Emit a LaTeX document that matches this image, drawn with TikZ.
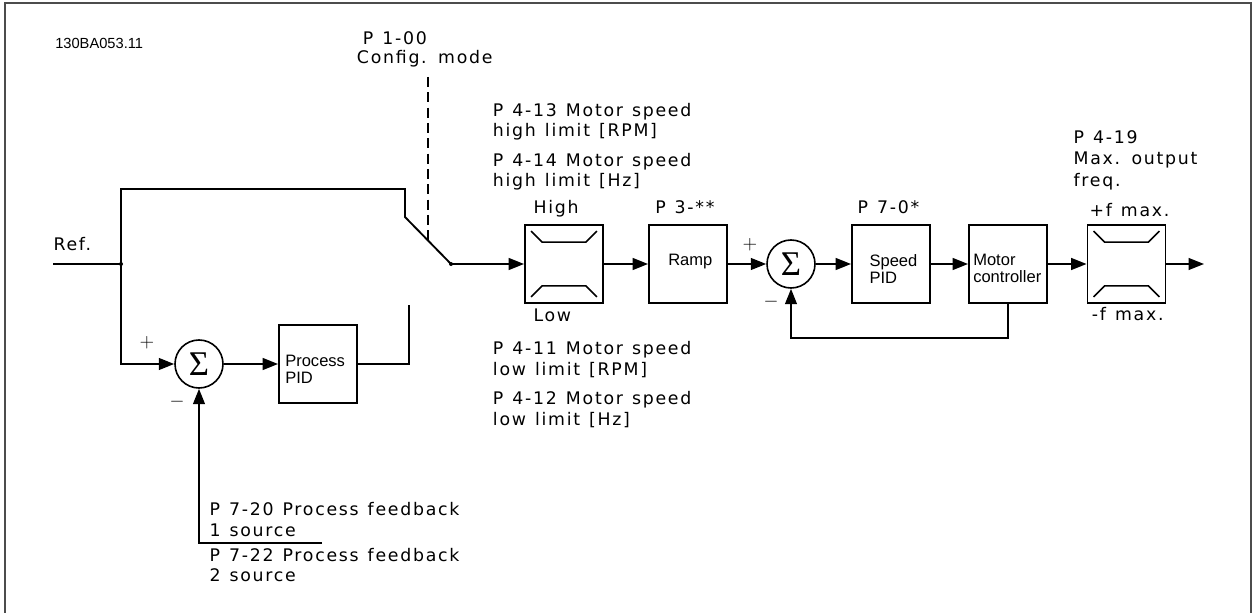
\documentclass[tikz,border=0pt]{standalone}
\usepackage{fontspec}
\usetikzlibrary{arrows.meta}
\newfontfamily\vfont{DejaVu Sans}[LetterSpace=10]
\newfontfamily\afont{Liberation Sans}
\newfontfamily\sigfont{Liberation Serif}
\newcommand\mylblfont{\vfont\fontsize{13}{15.2}\selectfont\spaceskip=0.52em plus 0.1em\relax}
\newcommand\mylblfontb{\vfont\fontsize{13}{15.8}\selectfont\spaceskip=0.52em plus 0.1em\relax}
\begin{document}
\begin{tikzpicture}[x=0.75pt,y=-0.75pt,
  ln/.style={line width=1.4pt},
  arr/.style={ln,-{Triangle[length=11.5pt,width=8.8pt]}},
  blk/.style={draw,line width=1.4pt,minimum width=58.5pt,minimum height=58.5pt,inner sep=0pt},
  sumc/.style={draw,circle,line width=1.2pt,minimum size=36pt,inner sep=0pt,font=\sigfont\fontsize{26}{26}\selectfont},
  dot/.style={circle,fill,inner sep=0pt,minimum size=3pt},
  lbl/.style={font=\mylblfont,inner sep=0pt,align=left,anchor=base west},
  btxt/.style={font=\afont\fontsize{12.4}{12.5}\selectfont,inner sep=0pt,align=left,anchor=base west},
  sgn/.style={font=\fontsize{14}{14}\selectfont,inner sep=0pt},
  frame/.style={draw=black!70,line width=1.5pt}
]
\useasboundingbox (0,0) rectangle (1253,613);
\draw[frame] (5,613) -- (5,3) -- (1251,3) -- (1251,613);

% labels (anchor = baseline of the last line)
\node[btxt,font=\afont\fontsize{11}{12}\selectfont] (code) at (55,48.3) {130BA053.11};
\node[lbl] (cfgA) at (362.7,44.3) {P 1-00};
\node[lbl] (cfgB) at (356.7,64) {Config. mode};
\node[lbl] (ref) at (53.3,250.7) {Ref.};
\node[lbl] (hi1) at (492.7,137) {P 4-13 Motor speed\\high limit [RPM]};
\node[lbl] (hi2) at (492.7,187) {P 4-14 Motor speed\\high limit [Hz]};
\node[lbl] (lo1) at (492.7,375) {P 4-11 Motor speed\\low limit [RPM]};
\node[lbl] (lo2) at (492.7,425) {P 4-12 Motor speed\\low limit [Hz]};
\node[lbl] (high) at (533.3,213.3) {High};
\node[lbl] (low) at (533.3,321.7) {Low};
\node[lbl] (p3) at (655,213.3) {P 3-**};
\node[lbl] (p70) at (857.3,213.3) {P 7-0*};
\node[lbl,font=\mylblfontb] (p419) at (1073.3,186) {P 4-19\\Max. output\\freq.};
\node[lbl] (fmaxp) at (1089.3,216.7) {+f max.};
\node[lbl] (fmaxm) at (1091.7,320.7) {-f max.};
\node[lbl] (fb1) at (209.3,536) {P 7-20 Process feedback\\1 source};
\node[lbl] (fb2) at (209.3,581.7) {P 7-22 Process feedback\\2 source};

% blocks
\node[blk] (lim1) at (564,264) {};
\node[blk] (ramp) at (688,264) {};
\node[blk] (spid) at (891,264) {};
\node[blk] (mc) at (1008,264) {};
\node[blk] (lim2) at (1126.5,264) {};
\node[blk] (ppid) at (318,364) {};
\node[btxt] (rampt) at (668,265) {Ramp};
\node[btxt] (spidt) at (869.3,283.3) {Speed\\PID};
\node[btxt] (mct) at (973,282.3) {Motor\\controller};
\node[btxt] (ppidt) at (285,383.3) {Process\\PID};

% limiter symbols
\foreach \b in {lim1,lim2}{
  \draw[line width=1.1pt] ([shift={(7,7)}]\b.north west) -- ++(11,11) -- ([shift={(-18,18)}]\b.north east) -- ++(11,-11);
  \draw[line width=1.1pt] ([shift={(7,-7)}]\b.south west) -- ++(11,-11) -- ([shift={(-18,-18)}]\b.south east) -- ++(11,11);
}

% summing junctions
\node[sumc] (sum1) at (199,364) {Σ};
\node[sumc] (sum2) at (791,264) {Σ};
\node[sgn] (p1) at (147,343) {$+$};
\node[sgn] (m1) at (177,402) {$-$};
\node[sgn] (p2) at (750,245) {$+$};
\node[sgn] (m2) at (771,302) {$-$};

% switch and connections
\coordinate (refin) at (53,264);
\node[dot] (j1) at (121,264) {};
\coordinate (c1) at (121,189);
\coordinate (c2) at (405,189);
\coordinate (c3) at (405,217);
\node[dot] (sw) at (451,264) {};
\coordinate (d1) at (428,77);
\coordinate (d2) at (428,240);
\coordinate (open) at (409,305);
\coordinate (fbend) at (322,543);
\coordinate (fbcorner) at (199,543);
\coordinate (mcfb) at (1008,338);
\coordinate (sumfb) at (791,338);
\coordinate (outend) at (1204,264);

\draw[ln] (refin) -- (j1.center);
\draw[ln] (j1.center) -- (c1) -- (c2) -- (c3) -- (sw.center);
\draw[ln,dash pattern=on 7.5pt off 4pt] (d1) -- (d2);
\draw[arr] (j1.center) |- (sum1.west);
\draw[arr] (sum1) -- (ppid);
\draw[ln] (ppid.east) -| (open);
\draw[arr] (fbend) -- (fbcorner) -- (sum1.south);

\draw[arr] (sw.center) -- (lim1.west);
\draw[arr] (lim1) -- (ramp);
\draw[arr] (ramp) -- (sum2);
\draw[arr] (sum2) -- (spid);
\draw[arr] (spid) -- (mc);
\draw[arr] (mc) -- (lim2);
\draw[arr] (lim2.east) -- (outend);
\draw[arr] (mc.south) -- (mcfb) -- (sumfb) -- (sum2.south);
\end{tikzpicture}
\end{document}
